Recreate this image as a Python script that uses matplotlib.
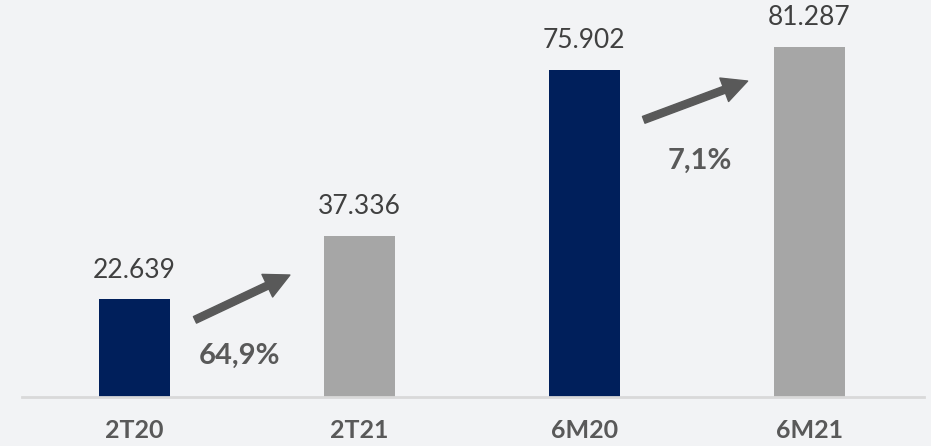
import matplotlib
matplotlib.use("Agg")
import matplotlib.pyplot as plt
from matplotlib.patches import FancyArrowPatch, ArrowStyle

# Data
categories = ["2T20", "2T21", "6M20", "6M21"]
values = [22.639, 37.336, 75.902, 81.287]
value_labels = ["22.639", "37.336", "75.902", "81.287"]
growth_labels = ["64,9%", "7,1%"]

navy = "#001f5b"
grey_bar = "#a6a6a6"
text_dark = "#404040"
text_mid = "#595959"
bg = "#f2f3f5"
bar_colors = [navy, grey_bar, navy, grey_bar]

plt.rcParams["font.family"] = ["Lato", "DejaVu Sans"]

fig = plt.figure(figsize=(9.31, 4.46), dpi=100, facecolor=bg)
ax = fig.add_axes([22 / 931, 49 / 446, 902 / 931, 397 / 446])
ax.set_facecolor(bg)

x = list(range(len(categories)))
ax.bar(x, values, width=0.316, color=bar_colors, zorder=2)

ax.set_xlim(-0.5, 3.51)
ax.set_ylim(0, 92.1)

for xi, v, lab in zip(x, values, value_labels):
    ax.annotate(lab, (xi, v), xytext=(0, 12), textcoords="offset points",
                ha="center", va="bottom", fontsize=19, color=text_dark,
                fontweight="normal", annotation_clip=False)

# Growth arrows between each pair of bars
arrow_style = ArrowStyle.Simple(head_length=18, head_width=18, tail_width=5.2)
arrows = [((0.269, 17.9), (0.691, 28.3)), ((2.264, 64.3), (2.726, 73.3))]
for start, end in arrows:
    ax.add_patch(FancyArrowPatch(start, end, arrowstyle=arrow_style,
                                 mutation_scale=1, color=text_mid,
                                 shrinkA=0, shrinkB=0, zorder=3))

growth_pos = [(0.469, 9.5), (2.513, 54.8)]
for (gx, gy), lab in zip(growth_pos, growth_labels):
    ax.text(gx, gy, lab, ha="center", va="center", fontsize=21,
            fontweight="bold", color=text_mid)

for s in ["top", "right", "left"]:
    ax.spines[s].set_visible(False)
ax.spines["bottom"].set_color("#d9d9d9")
ax.spines["bottom"].set_linewidth(2)
ax.set_yticks([])
ax.set_xticks(x)
ax.set_xticklabels(categories, fontsize=18, fontweight="bold", color=text_mid)
ax.tick_params(axis="x", length=0, pad=16)

fig.savefig("out.png", dpi=100, facecolor=bg)
